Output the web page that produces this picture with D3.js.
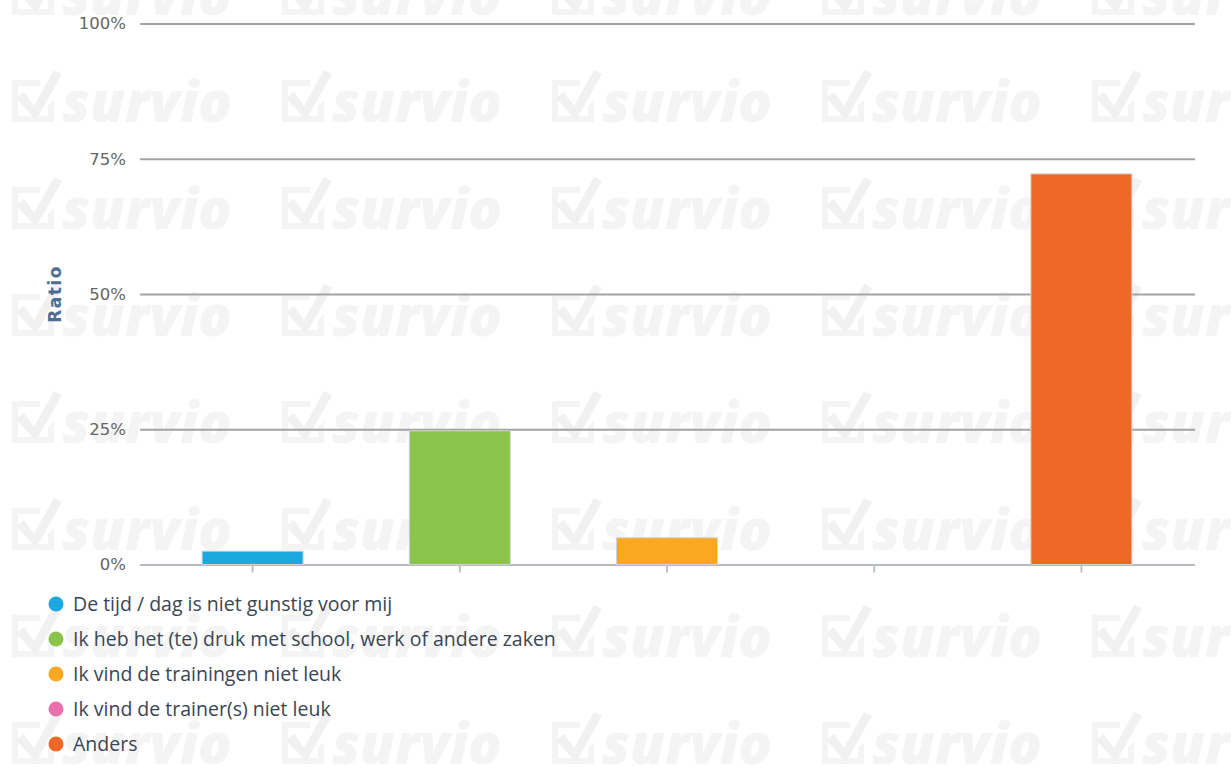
<!DOCTYPE html>
<html>
<head>
<meta charset="utf-8">
<script src="https://cdn.jsdelivr.net/npm/d3@7"></script>
<style>
  html, body { margin: 0; padding: 0; background: #fff; }
  svg { display: block; }
</style>
</head>
<body>
<svg id="chart" width="1231" height="767"></svg>
<script>
const categories = [
  "De tijd / dag is niet gunstig voor mij",
  "Ik heb het (te) druk met school, werk of andere zaken",
  "Ik vind de trainingen niet leuk",
  "Ik vind de trainer(s) niet leuk",
  "Anders"
];
const values = [2.47, 24.7, 4.94, 0, 72.2];
const colors = ["#1EA8E0", "#8BC44A", "#FAA722", "#E96FAD", "#F06827"];
const yTicks = [0, 25, 50, 75, 100];
const yTitle = "Ratio";
const watermarkText = "survio";

const W = 1231, H = 767;
const plot = { left: 140, right: 1195, top: 23.5, bottom: 564.5 };

const svg = d3.select("#chart");

// watermark tiles (background decoration)
const wmCol = "#f4f4f4";
const wm = svg.append("g").attr("fill", wmCol);
const wmXs = d3.range(10, W, 270);
const wmYs = d3.range(-7, H + 60, 107);
wmYs.forEach(cy => {
  wmXs.forEach(cx => {
    const g = wm.append("g").attr("transform", `translate(${cx},${cy})`);
    g.append("path")
      .attr("d", "M2,-20 L30,-20 L30,-14 L8,-14 L8,16 L38,16 L38,6 L44,0 L44,22 L2,22 Z")
      .attr("fill", wmCol);
    g.append("path")
      .attr("d", "M6,-2 L14,-8 L24,6 L44,-30 L52,-26 L26,20 Z")
      .attr("fill", "#f1f1f1");
    g.append("text")
      .attr("x", 52).attr("y", 22)
      .attr("font-family", "'Open Sans', sans-serif")
      .attr("font-weight", 800)
      .attr("font-style", "italic")
      .attr("font-size", 56)
      .attr("fill", wmCol)
      .text(watermarkText);
  });
});

const y = d3.scaleLinear().domain([0, 100]).range([plot.bottom, plot.top]);
const x = d3.scaleBand().domain(categories).range([149, 1185]);

// gridlines + y labels
const yAxis = d3.axisLeft(y)
  .tickValues(yTicks)
  .tickSize(-(plot.right - plot.left))
  .tickPadding(14)
  .tickFormat(d => d + "%");
const gy = svg.append("g")
  .attr("transform", `translate(${plot.left},0)`)
  .call(yAxis);
gy.select(".domain").remove();
gy.selectAll(".tick line")
  .attr("stroke", d => d === 0 ? "#b6bac3" : "#a3a3a3")
  .attr("stroke-width", 1.8);
gy.selectAll(".tick text")
  .attr("fill", "#666")
  .attr("font-family", "'DejaVu Sans', sans-serif")
  .attr("font-size", 16.5)
  .attr("dy", "0.32em");

// x axis ticks
const xAxis = d3.axisBottom(x).tickSize(8).tickFormat("");
const gx = svg.append("g")
  .attr("transform", `translate(0,${plot.bottom})`)
  .call(xAxis);
gx.select(".domain").remove();
gx.selectAll(".tick line").attr("stroke", "#b6bac3").attr("stroke-width", 1.8);

// bars
const barW = 101;
svg.append("g").selectAll("rect")
  .data(categories.map((c, i) => ({ c, v: values[i], col: colors[i] })).filter(d => d.v > 0))
  .join("rect")
  .attr("x", d => x(d.c) + x.bandwidth() / 2 - barW / 2)
  .attr("y", d => y(d.v))
  .attr("width", barW)
  .attr("height", d => y(0) - y(d.v))
  .attr("fill", d => d.col)
  .attr("stroke", "#d2d2d2")
  .attr("stroke-width", 1);

// y title
svg.append("text")
  .attr("transform", `translate(61,294) rotate(-90)`)
  .attr("text-anchor", "middle")
  .attr("font-family", "'DejaVu Sans', sans-serif")
  .attr("font-weight", "bold")
  .attr("font-size", 17)
  .attr("letter-spacing", 1.5)
  .attr("fill", "#4d6d94")
  .text(yTitle);

// legend
const lg = svg.append("g");
categories.forEach((c, i) => {
  const cy = 604 + 35 * i;
  lg.append("circle").attr("cx", 56).attr("cy", cy).attr("r", 7.5).attr("fill", colors[i]);
  lg.append("text")
    .attr("x", 73).attr("y", cy + 7)
    .attr("font-family", "'Open Sans', sans-serif")
    .attr("font-size", 19.5)
    .attr("fill", "#3a4556")
    .text(c);
});
</script>
</body>
</html>
